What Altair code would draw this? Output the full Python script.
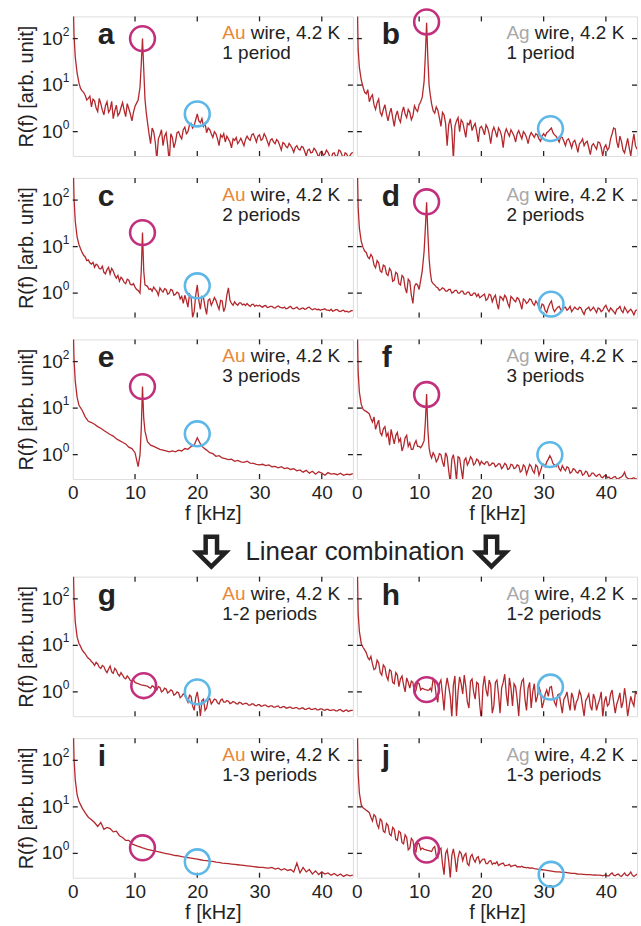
import altair as alt
import pandas as pd

# ---------------- data ----------------
# coarse sampling (smooth spectra e, i)
F = [0.05, 0.2, 0.4, 0.7, 1.0, 1.5, 2.0, 2.5, 3.0, 3.5,
     4.0, 4.5, 5.0, 5.5, 6.0, 6.5, 7.0, 7.5, 8.0, 8.5,
     9.0, 9.5, 10.0, 10.5, 10.8, 11.0, 11.2, 11.4, 11.6, 12.0,
     12.5, 13.0, 13.5, 14.0, 14.5, 15.0, 15.5, 16.0, 16.5, 17.0,
     17.5, 18.0, 18.5, 19.0, 19.5, 20.0, 20.5, 21.0, 21.5, 22.0,
     22.5, 23.0, 23.5, 24.0, 24.5, 25.0, 25.5, 26.0, 26.5, 27.0,
     27.5, 28.0, 28.5, 29.0, 29.5, 30.0, 30.5, 31.0, 31.5, 32.0,
     32.5, 33.0, 33.5, 34.0, 34.5, 35.0, 35.5, 36.0, 36.5, 37.0,
     37.5, 38.0, 38.5, 39.0, 39.5, 40.0, 40.5, 41.0, 41.5, 42.0,
     42.5, 43.0, 43.5, 44.0, 44.5, 45.0]

# fine sampling (noisy spectra)
FF = [0.05, 0.2, 0.4, 0.7,
      1.0, 1.25, 1.5, 1.75, 2.0, 2.25, 2.5, 2.75, 3.0, 3.25,
      3.5, 3.75, 4.0, 4.25, 4.5, 4.75, 5.0, 5.25, 5.5, 5.75,
      6.0, 6.25, 6.5, 6.75, 7.0, 7.25, 7.5, 7.75, 8.0, 8.25,
      8.5, 8.75, 9.0, 9.25, 9.5, 9.75, 10.0, 10.25, 10.5,
      10.8, 11.0, 11.2, 11.4, 11.6, 11.8,
      12.0, 12.25, 12.5, 12.75, 13.0, 13.25, 13.5, 13.75, 14.0, 14.25,
      14.5, 14.75, 15.0, 15.25, 15.5, 15.75, 16.0, 16.25, 16.5, 16.75,
      17.0, 17.25, 17.5, 17.75, 18.0, 18.25, 18.5, 18.75, 19.0, 19.25,
      19.5, 19.75, 20.0, 20.25, 20.5, 20.75, 21.0, 21.25, 21.5, 21.75,
      22.0, 22.25, 22.5, 22.75, 23.0, 23.25, 23.5, 23.75, 24.0, 24.25,
      24.5, 24.75, 25.0, 25.25, 25.5, 25.75, 26.0, 26.25, 26.5, 26.75,
      27.0, 27.25, 27.5, 27.75, 28.0, 28.25, 28.5, 28.75, 29.0, 29.25,
      29.5, 29.75, 30.0, 30.25, 30.5, 30.75, 31.0, 31.25, 31.5, 31.75,
      32.0, 32.25, 32.5, 32.75, 33.0, 33.25, 33.5, 33.75, 34.0, 34.25,
      34.5, 34.75, 35.0, 35.25, 35.5, 35.75, 36.0, 36.25, 36.5, 36.75,
      37.0, 37.25, 37.5, 37.75, 38.0, 38.25, 38.5, 38.75, 39.0, 39.25,
      39.5, 39.75, 40.0, 40.25, 40.5, 40.75, 41.0, 41.25, 41.5, 41.75,
      42.0, 42.25, 42.5, 42.75, 43.0, 43.25, 43.5, 43.75, 44.0, 44.25,
      44.5, 44.75, 45.0]

R_a = [900, 120, 40, 18,
       11, 8.5, 7.5, 7.0, 6.0, 4.8, 5.2, 5.8, 3.4, 5.0,
       4.6, 3.2, 2.7, 5.2, 4.0, 2.9, 2.3, 3.6, 4.4, 2.6,
       3.0, 4.5, 1.9, 2.8, 3.7, 2.2, 2.5, 3.3, 4.2, 2.9,
       2.1, 4.0, 3.1, 2.4, 1.7, 2.6, 3.5, 4.1, 4.8,
       9.0, 28, 100, 22, 5.0, 2.6,
       1.6, 0.9, 0.55, 1.2, 1.0, 0.6, 0.25, 0.7, 0.85, 1.1,
       0.5, 0.8, 0.95, 0.5, 0.22, 0.9, 0.75, 0.45, 0.6, 0.95,
       1.0, 0.8, 0.7, 1.1, 1.25, 0.9, 1.0, 1.4, 1.5, 1.2,
       1.35, 1.8, 2.4, 1.7, 1.55, 1.9, 1.3, 1.5, 0.95, 1.2,
       1.1, 0.9, 0.75, 1.0, 0.9, 0.7, 0.5, 0.85, 0.75, 0.9,
       0.6, 0.8, 0.7, 0.6, 0.45, 0.7, 0.65, 0.75, 0.55, 0.62,
       0.72, 0.6, 0.5, 0.68, 0.8, 0.7, 0.65, 0.85, 0.9, 0.75,
       0.6, 0.8, 0.85, 0.65, 0.7, 0.9, 0.78, 0.62, 0.5, 0.66,
       0.7, 0.6, 0.55, 0.68, 0.62, 0.5, 0.4, 0.58, 0.55, 0.48,
       0.45, 0.56, 0.5, 0.44, 0.36, 0.46, 0.5, 0.42, 0.4, 0.48,
       0.46, 0.38, 0.3, 0.4, 0.42, 0.35, 0.36, 0.44, 0.4, 0.34,
       0.28, 0.36, 0.38, 0.31, 0.33, 0.4, 0.36, 0.3, 0.26, 0.34,
       0.35, 0.29, 0.3, 0.4, 0.38, 0.31, 0.27, 0.35, 0.33, 0.28,
       0.3, 0.34, 0.36]

R_b = [900, 60, 24, 13,
       9.0, 7.0, 6.5, 8.0, 4.4, 5.5, 6.2, 3.8, 3.0, 4.2,
       5.0, 2.6, 2.2, 3.0, 3.8, 2.4, 1.7, 2.5, 3.2, 2.0,
       1.3, 2.2, 2.8, 1.9, 1.6, 2.6, 3.4, 2.4, 2.0, 3.0,
       2.6, 1.8, 2.2, 3.6, 3.0, 2.7, 3.8, 4.4, 5.5,
       12, 45, 220, 38, 10, 6.0,
       4.0, 2.8, 2.5, 3.4, 2.9, 2.0, 1.3, 2.6, 2.3, 1.5,
       0.5, 1.4, 1.9, 1.1, 0.25, 1.3, 1.7, 2.0, 1.0, 1.8,
       1.6, 1.1, 0.75, 1.5, 1.4, 1.8, 1.05, 1.3, 1.5, 1.0,
       0.6, 1.2, 1.3, 1.1, 0.85, 1.4, 1.2, 0.9, 0.55, 1.0,
       1.25, 1.0, 0.75, 1.2, 1.05, 0.8, 0.45, 0.9, 1.15, 0.95,
       0.8, 1.1, 0.95, 0.8, 0.6, 0.9, 1.05, 0.85, 0.7, 1.0,
       0.9, 0.75, 0.55, 0.8, 0.95, 0.85, 0.75, 0.9, 0.85, 0.7,
       0.62, 0.8, 0.9, 0.8, 0.95, 1.0, 1.1, 1.2, 0.95, 0.85,
       0.8, 0.7, 0.6, 0.78, 0.75, 0.62, 0.5, 0.66, 0.7, 0.58,
       0.45, 0.6, 0.65, 0.5, 0.36, 0.55, 0.6, 0.7, 0.5, 0.58,
       0.62, 0.45, 0.32, 0.5, 0.55, 0.48, 0.42, 0.6, 0.58, 0.45,
       0.3, 0.46, 0.52, 0.4, 0.45, 0.7, 0.9, 1.2, 1.15, 0.6,
       0.45, 0.8, 0.62, 0.4, 0.35, 0.5, 0.72, 0.45, 0.3, 0.55,
       0.9, 0.5, 0.42]

R_c = [900, 110, 35, 16,
       11, 9.0, 7.5, 6.5, 6.0, 5.0, 5.2, 4.5, 4.2, 4.6,
       3.6, 4.2, 4.0, 3.4, 3.3, 3.8, 2.8, 2.6, 3.2, 3.6,
       2.6, 3.4, 3.0, 2.4, 2.1, 2.4, 1.8, 2.2, 2.0, 1.7,
       1.6, 2.0, 1.9, 1.55, 1.5, 1.6, 1.35, 1.2, 1.15,
       1.0, 3.0, 20, 3.0, 1.5, 1.45,
       1.4, 1.2, 1.25, 1.1, 1.35, 1.2, 1.1, 0.9, 1.3, 1.15,
       1.05, 1.25, 1.2, 0.95, 1.0, 1.2, 1.15, 0.9, 0.95, 1.05,
       1.0, 0.75, 0.85, 0.6, 0.9, 0.7, 0.5, 0.95, 0.85, 0.3,
       0.4, 0.9, 1.5, 0.7, 0.45, 0.85, 0.8, 0.5, 0.35, 0.7,
       0.75, 0.55, 0.65, 0.8, 0.7, 0.55, 0.45, 0.7, 0.68, 0.4,
       0.5, 0.9, 1.3, 0.7, 0.6, 0.55, 0.65, 0.58, 0.55, 0.62,
       0.62, 0.56, 0.58, 0.54, 0.6, 0.55, 0.52, 0.57, 0.58, 0.52,
       0.55, 0.53, 0.55, 0.52, 0.5, 0.53, 0.54, 0.49, 0.5, 0.52,
       0.52, 0.49, 0.48, 0.51, 0.53, 0.5, 0.49, 0.48, 0.5, 0.46,
       0.47, 0.5, 0.52, 0.47, 0.46, 0.48, 0.5, 0.46, 0.45, 0.47,
       0.48, 0.45, 0.46, 0.49, 0.5, 0.46, 0.44, 0.46, 0.46, 0.44,
       0.45, 0.43, 0.44, 0.45, 0.46, 0.43, 0.43, 0.42, 0.45, 0.41,
       0.42, 0.44, 0.44, 0.41, 0.4, 0.42, 0.43, 0.4, 0.41, 0.39,
       0.4, 0.42, 0.42]

R_d = [900, 70, 25, 13,
       9.5, 8.0, 7.5, 6.0, 5.5, 6.8, 6.0, 4.0, 3.5, 5.0,
       4.5, 3.0, 2.8, 4.0, 3.8, 2.6, 2.4, 3.4, 3.0, 1.8,
       1.9, 2.8, 2.6, 1.6, 1.5, 2.4, 2.2, 1.3, 1.0, 2.0,
       1.8, 0.9, 0.6, 1.4, 1.6, 1.5, 1.2, 1.9, 3.0,
       8.0, 25, 90, 20, 5.5, 2.8,
       1.8, 1.6, 1.5, 1.35, 1.3, 1.15, 1.2, 1.3, 1.25, 1.1,
       1.1, 1.2, 1.2, 1.0, 1.05, 1.15, 1.15, 1.0, 1.0, 1.1,
       1.1, 0.95, 0.95, 1.05, 1.05, 0.9, 0.9, 1.0, 1.0, 0.85,
       0.95, 0.8, 0.85, 0.9, 0.95, 0.7, 0.75, 0.95, 0.9, 0.65,
       0.8, 0.9, 0.6, 0.45, 0.85, 0.8, 0.7, 0.9, 0.8, 0.6,
       0.5, 0.85, 0.78, 0.7, 0.65, 0.8, 0.75, 0.6, 0.45, 0.75,
       0.7, 0.6, 0.65, 0.75, 0.72, 0.6, 0.55, 0.68, 0.6, 0.5,
       0.45, 0.58, 0.55, 0.42, 0.38, 0.5, 0.6, 0.68, 0.48, 0.4,
       0.45, 0.5, 0.52, 0.44, 0.42, 0.48, 0.5, 0.43, 0.46, 0.52,
       0.4, 0.45, 0.5, 0.46, 0.44, 0.5, 0.48, 0.4, 0.35, 0.44,
       0.47, 0.5, 0.42, 0.45, 0.5, 0.44, 0.38, 0.48, 0.46, 0.4,
       0.43, 0.5, 0.55, 0.45, 0.4, 0.48, 0.44, 0.4, 0.36, 0.45,
       0.47, 0.52, 0.42, 0.38, 0.5, 0.44, 0.38, 0.42, 0.45, 0.4,
       0.34, 0.42, 0.44]

R_e = [900, 110, 38, 17, 11.5, 9.0, 6.5, 5.2, 4.9, 4.5,
       4.0, 3.7, 3.3, 3.0, 2.7, 2.5, 2.2, 2.0, 1.85, 1.7,
       1.45, 1.35, 1.1, 0.55, 1.0, 3.5, 29, 6.0, 3.2, 1.9,
       1.6, 1.5, 1.4, 1.3, 1.25, 1.2, 1.15, 1.2, 1.15, 1.25,
       1.2, 1.35, 1.3, 1.5, 1.6, 2.3, 1.7, 1.4, 1.25, 1.1,
       1.05, 0.92, 0.95, 0.85, 0.82, 0.78, 0.8, 0.72, 0.75, 0.7,
       0.68, 0.72, 0.66, 0.65, 0.62, 0.6, 0.62, 0.58, 0.6, 0.55,
       0.56, 0.52, 0.55, 0.5, 0.52, 0.48, 0.5, 0.45, 0.47, 0.42,
       0.46, 0.4, 0.44, 0.38, 0.43, 0.4, 0.36, 0.41, 0.38, 0.39,
       0.37, 0.4, 0.36, 0.38, 0.37, 0.39]

R_f = [900, 60, 22, 12,
       9.5, 8.8, 8.5, 8.0, 7.5, 6.0, 5.0, 6.5, 3.5, 4.5,
       5.5, 3.0, 2.6, 3.6, 4.0, 2.5, 2.9, 1.6, 3.5, 2.4,
       1.7, 2.6, 3.0, 1.9, 2.2, 1.2, 1.5, 2.3, 2.6, 1.5,
       1.8, 1.3, 1.3, 1.7, 2.0, 1.5, 1.5, 1.4, 1.6,
       2.0, 5.0, 20, 3.5, 1.4, 1.0,
       0.85, 1.1, 0.95, 0.7, 0.8, 1.05, 1.0, 0.7, 0.55, 1.1,
       0.9, 0.45, 0.25, 0.8, 1.0, 0.6, 0.28, 0.9, 0.85, 0.5,
       0.3, 0.75, 0.85, 0.6, 0.7, 0.9, 0.8, 0.6, 0.65, 0.8,
       0.75, 0.6, 0.72, 0.65, 0.62, 0.7, 0.7, 0.58, 0.6, 0.66,
       0.65, 0.55, 0.58, 0.64, 0.63, 0.5, 0.55, 0.65, 0.6, 0.48,
       0.5, 0.62, 0.6, 0.5, 0.52, 0.6, 0.58, 0.42, 0.45, 0.6,
       0.55, 0.38, 0.48, 0.62, 0.56, 0.45, 0.4, 0.6, 0.55, 0.36,
       0.45, 0.58, 0.62, 0.55, 0.7, 0.8, 0.95, 0.82, 0.65, 0.6,
       0.55, 0.62, 0.5, 0.45, 0.58, 0.5, 0.45, 0.55, 0.52, 0.4,
       0.42, 0.5, 0.48, 0.42, 0.4, 0.46, 0.45, 0.36, 0.38, 0.44,
       0.42, 0.34, 0.35, 0.4, 0.4, 0.36, 0.34, 0.37, 0.38, 0.33,
       0.32, 0.35, 0.36, 0.32, 0.33, 0.3, 0.31, 0.33, 0.34, 0.3,
       0.3, 0.32, 0.33, 0.36, 0.42, 0.33, 0.31, 0.3, 0.3, 0.31,
       0.32, 0.3, 0.3]

R_g = [900, 100, 32, 15,
       11, 9.5, 8.0, 7.2, 6.6, 5.8, 5.3, 5.0, 4.5, 4.2,
       3.7, 4.3, 4.0, 3.4, 3.2, 3.7, 3.5, 2.9, 2.6, 3.1,
       3.6, 2.7, 2.5, 3.2, 2.9, 2.4, 2.2, 2.6, 2.3, 2.0,
       1.9, 2.2, 2.0, 1.75, 1.7, 1.8, 1.6, 1.55, 1.5,
       1.45, 1.42, 1.4, 1.38, 1.36, 1.34,
       1.33, 1.25, 1.2, 1.35, 1.3, 1.15, 1.1, 1.3, 1.25, 1.0,
       1.05, 1.2, 1.15, 0.95, 1.0, 1.1, 1.05, 0.85, 0.9, 1.0,
       0.95, 0.75, 0.8, 0.9, 0.85, 0.7, 0.6, 0.85, 0.8, 0.5,
       0.4, 0.75, 1.0, 0.6, 0.3, 0.65, 0.7, 0.4, 0.45, 0.68,
       0.72, 0.55, 0.62, 0.7, 0.68, 0.58, 0.55, 0.66, 0.7, 0.6,
       0.6, 0.65, 0.63, 0.56, 0.58, 0.62, 0.6, 0.56, 0.55, 0.6,
       0.58, 0.54, 0.55, 0.57, 0.56, 0.52, 0.52, 0.55, 0.55, 0.51,
       0.5, 0.53, 0.53, 0.49, 0.5, 0.52, 0.52, 0.49, 0.48, 0.5,
       0.5, 0.47, 0.47, 0.49, 0.5, 0.46, 0.46, 0.48, 0.48, 0.45,
       0.45, 0.47, 0.47, 0.44, 0.44, 0.46, 0.46, 0.43, 0.43, 0.45,
       0.45, 0.42, 0.42, 0.44, 0.45, 0.42, 0.42, 0.43, 0.44, 0.41,
       0.41, 0.43, 0.43, 0.41, 0.4, 0.42, 0.42, 0.4, 0.4, 0.41,
       0.41, 0.39, 0.39, 0.41, 0.42, 0.39, 0.38, 0.4, 0.41, 0.38,
       0.39, 0.4, 0.4]

R_h = [900, 50, 20, 11,
       9.0, 8.0, 7.0, 5.5, 4.9, 5.8, 4.0, 3.0, 3.2, 4.8,
       4.2, 2.6, 2.3, 3.8, 3.4, 2.2, 1.8, 3.0, 2.8, 1.6,
       1.5, 2.6, 2.3, 1.3, 1.9, 2.2, 1.4, 1.0, 2.0, 1.6,
       1.2, 1.7, 1.6, 0.9, 1.1, 1.6, 1.5, 1.1, 1.2,
       1.15, 1.12, 1.1, 1.08, 1.1, 1.2,
       1.05, 1.9, 1.6, 0.8, 0.6, 1.5, 1.8, 0.9, 0.4, 1.2,
       2.0, 1.3, 0.8, 0.28, 1.4, 2.2, 0.3, 1.0, 2.1, 1.5,
       0.9, 2.3, 1.3, 0.6, 0.45, 1.7, 1.9, 1.0, 0.7, 1.6,
       1.5, 0.5, 0.25, 1.3, 2.2, 1.1, 0.8, 1.8, 1.4, 0.35,
       0.5, 1.6, 1.8, 0.9, 0.35, 1.2, 1.6, 2.4, 0.9, 0.5,
       2.0, 1.2, 0.5, 1.5, 1.3, 0.7, 0.3, 1.1, 1.7, 1.9,
       0.7, 0.4, 1.2, 1.6, 0.45, 1.0, 1.5, 0.6, 0.8, 1.3,
       1.0, 0.45, 0.6, 0.9, 1.1, 0.8, 1.25, 1.3, 0.8, 0.6,
       0.5, 0.85, 0.9, 0.55, 0.35, 0.7, 0.8, 1.0, 0.6, 0.4,
       0.95, 0.75, 0.4, 0.6, 0.7, 1.05, 0.85, 0.5, 0.3, 0.65,
       0.75, 0.9, 0.5, 0.4, 0.9, 0.7, 0.4, 0.55, 0.7, 1.0,
       0.28, 0.6, 0.8, 0.5, 0.55, 0.9, 1.1, 0.6, 0.35, 0.55,
       0.7, 0.95, 0.45, 0.6, 1.2, 0.7, 0.3, 0.5, 0.8, 0.6,
       0.5, 1.0, 0.9]

R_i = [900, 110, 38, 18, 13, 9.5, 7.4, 6.0, 5.3, 4.6,
       3.8, 4.6, 3.3, 3.6, 3.4, 2.9, 3.0, 2.4, 2.2, 1.9,
       1.9, 1.6, 1.5, 1.42, 1.38, 1.35, 1.32, 1.3, 1.27, 1.22,
       1.18, 1.13, 1.1, 1.06, 1.02, 0.99, 0.96, 0.93, 0.9, 0.88,
       0.85, 0.83, 0.81, 0.79, 0.77, 0.75, 0.73, 0.71, 0.7, 0.68,
       0.67, 0.65, 0.64, 0.62, 0.61, 0.6, 0.59, 0.58, 0.57, 0.56,
       0.55, 0.54, 0.53, 0.52, 0.51, 0.5, 0.5, 0.49, 0.48, 0.5,
       0.46, 0.48, 0.44, 0.47, 0.43, 0.45, 0.4, 0.62, 0.38, 0.5,
       0.4, 0.45, 0.36, 0.42, 0.35, 0.4, 0.36, 0.38, 0.34, 0.37,
       0.33, 0.36, 0.32, 0.35, 0.33, 0.34]

R_j = [900, 55, 20, 11,
       9.5, 9.0, 8.5, 8.0, 7.5, 6.0, 5.0, 6.8, 6.2, 4.2,
       3.5, 5.5, 5.0, 3.0, 2.8, 4.4, 4.0, 2.6, 2.4, 3.6,
       3.3, 2.0, 1.9, 3.0, 2.8, 1.7, 1.6, 2.5, 2.2, 1.2,
       1.3, 2.1, 1.9, 1.2, 1.1, 1.7, 1.6, 1.2, 1.3,
       1.22, 1.2, 1.18, 1.16, 1.15, 1.12,
       1.1, 1.3, 1.4, 0.9, 0.8, 1.2, 1.3, 0.6, 0.35, 1.0,
       1.2, 0.7, 0.3, 0.9, 1.25, 0.8, 0.4, 0.8, 1.1, 1.0,
       0.7, 0.9, 1.0, 0.6, 0.55, 0.85, 0.95, 0.75, 0.65, 0.8,
       0.85, 0.62, 0.7, 0.75, 0.75, 0.6, 0.6, 0.68, 0.7, 0.58,
       0.62, 0.6, 0.66, 0.55, 0.58, 0.6, 0.62, 0.54, 0.55, 0.56,
       0.58, 0.52, 0.54, 0.55, 0.56, 0.51, 0.52, 0.51, 0.53, 0.5,
       0.5, 0.49, 0.5, 0.48, 0.49, 0.48, 0.47, 0.465, 0.46, 0.455,
       0.45, 0.445, 0.44, 0.435, 0.43, 0.425, 0.42, 0.415, 0.41, 0.405,
       0.4, 0.4, 0.4, 0.395, 0.39, 0.39, 0.39, 0.385, 0.38, 0.375,
       0.37, 0.37, 0.37, 0.365, 0.36, 0.36, 0.36, 0.355, 0.355, 0.35,
       0.35, 0.35, 0.35, 0.345, 0.34, 0.345, 0.34, 0.34, 0.34, 0.335,
       0.33, 0.34, 0.34, 0.33, 0.33, 0.36, 0.38, 0.34, 0.33, 0.35,
       0.36, 0.33, 0.32, 0.35, 0.38, 0.34, 0.33, 0.36, 0.4, 0.34,
       0.32, 0.34, 0.36]

LETTERS = ["a", "b", "c", "d", "e", "f", "g", "h", "i", "j"]
METALS = ["Au", "Ag"] * 5
PERIODS = ["1 period", "1 period", "2 periods", "2 periods", "3 periods", "3 periods",
           "1-2 periods", "1-2 periods", "1-3 periods", "1-3 periods"]
SERIES = [R_a, R_b, R_c, R_d, R_e, R_f, R_g, R_h, R_i, R_j]
FREQS = [FF, FF, FF, FF, F, FF, FF, FF, F, FF]
# circle centres: (f, R) for the magenta and the blue circle
CIRC_F_M = [11.2, 11.2, 11.2, 11.2, 11.2, 11.2, 11.4, 11.2, 11.2, 11.2]
CIRC_R_M = [100, 228, 20, 92, 29, 19.6, 1.36, 1.12, 1.32, 1.18]
CIRC_F_B = [20, 31.1, 20, 31.2, 20, 31.0, 20, 31.1, 20, 31.2]
CIRC_R_B = [2.4, 1.16, 1.44, 0.58, 2.8, 1.0, 1.0, 1.27, 0.66, 0.355]
X_TICKS = [10, 20, 30, 40]
X_LABELS = [0, 10, 20, 30, 40]
Y_TICKS = [1, 10, 100]
Y_EXP = ["0", "1", "2"]

# ---------------- style ----------------
FONT = "Liberation Sans"
RED = "#b3282d"
MAG = "#c2307d"
BLUE = "#5db7e7"
INK = "#222222"
METAL_COLOR = {"Au": "#e8873a", "Ag": "#a8a8a8"}
W, H = 281, 140
xs = alt.Scale(domain=[0, 45], nice=False, zero=False)
ys = alt.Scale(type="log", domain=[0.3, 300], nice=False)


def panel(k, left, xlabels):
    if xlabels:
        xaxis = alt.Axis(values=X_LABELS, ticks=False, tickSize=0, domain=False, grid=False,
                         labelFontSize=19, labelFont=FONT, labelColor=INK, labelPadding=5,
                         labelFlush=False, title="f [kHz]", titleFontSize=20, titleFont=FONT,
                         titleFontWeight="normal", titleColor=INK, titlePadding=1)
    else:
        xaxis = None
    if left:
        yaxis = alt.Axis(labels=False, ticks=False, tickSize=0, domain=False, grid=False,
                         title="R(f) [arb. unit]", titleFontSize=20, titleFont=FONT,
                         titleFontWeight="normal", titleColor=INK, titlePadding=36)
    else:
        yaxis = None

    def X():
        return alt.X("f:Q", scale=xs, axis=xaxis)

    def Y():
        return alt.Y("R:Q", scale=ys, axis=yaxis)

    df = pd.DataFrame({"f": FREQS[k], "R": SERIES[k]})
    line = alt.Chart(df).mark_line(color=RED, strokeWidth=1.3, clip=True).encode(x=X(), y=Y())

    dfc = pd.DataFrame({"f": [CIRC_F_M[k], CIRC_F_B[k]], "R": [CIRC_R_M[k], CIRC_R_B[k]],
                        "k": ["m", "b"]})
    circ = alt.Chart(dfc).mark_point(shape="circle", size=620, filled=False, strokeWidth=2.6,
                                     opacity=1).encode(
        x=X(), y=Y(),
        color=alt.Color("k:N", scale=alt.Scale(domain=["m", "b"], range=[MAG, BLUE]), legend=None))

    dxt = pd.DataFrame({"f": X_TICKS})
    xt_top = alt.Chart(dxt).mark_rule(color=INK, strokeWidth=1.3).encode(
        x=X(), y=alt.value(0), y2=alt.value(5))
    xt_bot = alt.Chart(dxt).mark_rule(color=INK, strokeWidth=1.3).encode(
        x=X(), y=alt.value(H), y2=alt.value(H - 5))
    dyt = pd.DataFrame({"R": Y_TICKS, "e": Y_EXP, "b": ["10"] * 3})
    yt_l = alt.Chart(dyt).mark_rule(color=INK, strokeWidth=1.3).encode(
        y=Y(), x=alt.value(0), x2=alt.value(5))
    yt_r = alt.Chart(dyt).mark_rule(color=INK, strokeWidth=1.3).encode(
        y=Y(), x=alt.value(W), x2=alt.value(W - 5))

    letter = alt.Chart(pd.DataFrame({"t": [LETTERS[k]]})).mark_text(
        align="left", baseline="alphabetic", fontSize=30, fontWeight="bold", font=FONT,
        color=INK).encode(x=alt.value(25), y=alt.value(28), text="t:N")
    metal = alt.Chart(pd.DataFrame({"t": [METALS[k]]})).mark_text(
        align="left", baseline="alphabetic", fontSize=19, font=FONT,
        color=METAL_COLOR[METALS[k]]).encode(x=alt.value(150), y=alt.value(23), text="t:N")
    rest = alt.Chart(pd.DataFrame({"t": ["wire, 4.2 K"]})).mark_text(
        align="left", baseline="alphabetic", fontSize=19, font=FONT, color=INK).encode(
        x=alt.value(178.5), y=alt.value(23), text="t:N")
    per = alt.Chart(pd.DataFrame({"t": [PERIODS[k]]})).mark_text(
        align="left", baseline="alphabetic", fontSize=19, font=FONT, color=INK).encode(
        x=alt.value(150), y=alt.value(43), text="t:N")

    layers = [line, xt_top, xt_bot, yt_l, yt_r, circ, letter, metal, rest, per]
    if left:
        lab = alt.Chart(dyt).mark_text(align="right", baseline="middle", fontSize=19, font=FONT,
                                       color=INK).encode(y=Y(), x=alt.value(-10), text="b:N")
        exp = alt.Chart(dyt).mark_text(align="left", baseline="middle", fontSize=12, font=FONT,
                                       color=INK, dy=-7).encode(y=Y(), x=alt.value(-10), text="e:N")
        layers += [lab, exp]
    return alt.layer(*layers).properties(width=W, height=H)


cells = []
for k in range(6):
    cells.append(panel(k, left=(k % 2 == 0), xlabels=(k >= 4)))

# gap row with "Linear combination"
ARROW = "M -0.38 -1 L 0.38 -1 L 0.38 0.05 L 0.95 0.05 L 0 1 L -0.95 0.05 L -0.38 0.05 Z"
BLANK_H = 54
txt = alt.Chart(pd.DataFrame({"t": ["Linear combination"]})).mark_text(
    align="center", baseline="middle", fontSize=26, font=FONT, color=INK).encode(
    x=alt.value(283), y=alt.value(51), text="t:N")
arrows = alt.Chart(pd.DataFrame({"ax": [139, 420]})).mark_point(
    shape=ARROW, size=900, filled=True, fill="white", stroke=INK, strokeWidth=4.5,
    opacity=1).encode(x=alt.X("ax:Q", scale=alt.Scale(domain=[0, W], range=[0, W]), axis=None),
                      y=alt.value(51))
blankL = alt.layer(txt, arrows).properties(width=W, height=BLANK_H,
                                           view=alt.ViewBackground(stroke="transparent"))
blankR = alt.Chart(pd.DataFrame({"t": [""]})).mark_text().encode(
    x=alt.value(0), y=alt.value(0), text="t:N").properties(
    width=W, height=BLANK_H, view=alt.ViewBackground(stroke="transparent"))
cells += [blankL, blankR]

for k in range(6, 10):
    cells.append(panel(k, left=(k % 2 == 0), xlabels=(k >= 8)))

chart = alt.concat(*cells, columns=2, spacing={"row": 22, "column": 4}, bounds="flush").properties(
    padding={"left": 16, "top": 2, "right": 2, "bottom": 4}
).configure_view(stroke=INK, strokeWidth=1.6).configure(font=FONT)

chart.save("out.html", embed_options={"renderer": "svg", "actions": False})
